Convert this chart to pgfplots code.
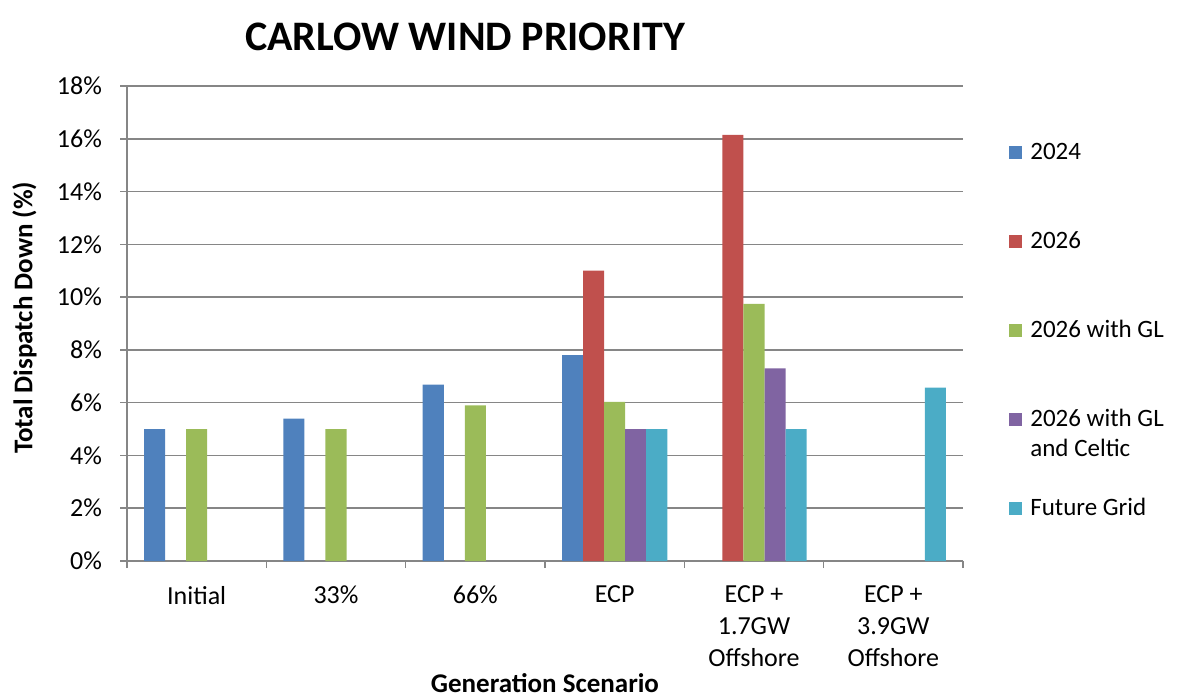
\documentclass[border=0pt]{standalone}
\usepackage{fontspec}
\setmainfont{Carlito}
\usepackage{pgfplots}
\pgfplotsset{compat=1.18}
\definecolor{cA}{HTML}{4F81BD}
\definecolor{cB}{HTML}{C0504D}
\definecolor{cC}{HTML}{9BBB59}
\definecolor{cD}{HTML}{8064A2}
\definecolor{cE}{HTML}{4BACC6}
\definecolor{gridc}{HTML}{868686}
\begin{document}
\begin{tikzpicture}
\begin{axis}[
  at={(63.5pt,68pt)}, anchor=south west,
  scale only axis, width=418pt, height=237.5pt,
  xmin=-0.5, xmax=5.5, ymin=0, ymax=18,
  ybar, bar width=0.151,
  axis x line*=bottom, axis y line*=left,
  axis line style={draw=gridc, line width=0.75pt},
  ytick={0,2,...,18},
  yticklabel={\pgfmathprintnumber{\tick}\%},
  /pgf/number format/assume math mode=true,
  xtick={0,1,2,3,4,5},
  xticklabels={Initial,33\%,66\%,ECP,{ECP +\\1.7GW\\Offshore},{ECP +\\3.9GW\\Offshore}},
  minor xtick={-0.5,0.5,...,5.5},
  tick align=outside,
  major tick length=3.5pt, minor tick length=3.5pt,
  major x tick style={draw=none},
  minor x tick style={draw=gridc, line width=0.75pt},
  major y tick style={draw=gridc, line width=0.75pt},
  ymajorgrids, grid style={draw=gridc, line width=0.75pt},
  tick label style={font=\fontsize{13}{15.8}\selectfont},
  xticklabel style={align=center, anchor=north, yshift=-5.5pt},
  yticklabel style={xshift=-5.5pt},
  xlabel={Generation Scenario},
  ylabel={Total Dispatch Down (\%)},
  label style={font=\fontsize{13.5}{16}\selectfont\bfseries},
  xlabel style={at={(axis description cs:0.5,-0.257)}, anchor=center},
  ylabel style={at={(axis description cs:-0.1225,0.512)}, anchor=center},
  legend style={at={(axis description cs:1.055,0.8737)}, anchor=north west,
    draw=none, fill=none, inner sep=0pt, row sep=36.5pt, column sep=4pt,
    font=\fontsize{12.5}{15}\selectfont, cells={anchor=base west},
    nodes={inner sep=0pt}},
  legend image code/.code={\fill[#1] (0pt,0pt) rectangle (6.5pt,6.5pt);},
]
\addplot[fill=cA, draw=none, bar shift=-0.302] coordinates {(0,5.0) (1,5.4) (2,6.68) (3,7.8)};
\addlegendentry{\smash{2024}}
\addplot[fill=cB, draw=none, bar shift=-0.151] coordinates {(3,11.0) (4,16.15)};
\addlegendentry{\smash{2026}}
\addplot[fill=cC, draw=none, bar shift=0] coordinates {(0,5.0) (1,5.0) (2,5.9) (3,6.03) (4,9.74)};
\addlegendentry{\smash{2026 with GL}}
\addplot[fill=cD, draw=none, bar shift=0.151] coordinates {(3,5.0) (4,7.3)};
\addlegendentry{\smash{\parbox[t]{3cm}{2026 with GL\\and Celtic}}}
\addplot[fill=cE, draw=none, bar shift=0.302] coordinates {(3,5.0) (4,5.0) (5,6.57)};
\addlegendentry{\smash{Future Grid}}
\end{axis}
\node[font=\fontsize{21}{25}\selectfont\bfseries, anchor=center] at (232.5pt,330pt) {CARLOW WIND PRIORITY};
\pgfresetboundingbox
\path[use as bounding box] (0,0) rectangle (590.5pt,348.5pt);
\end{tikzpicture}
\end{document}
